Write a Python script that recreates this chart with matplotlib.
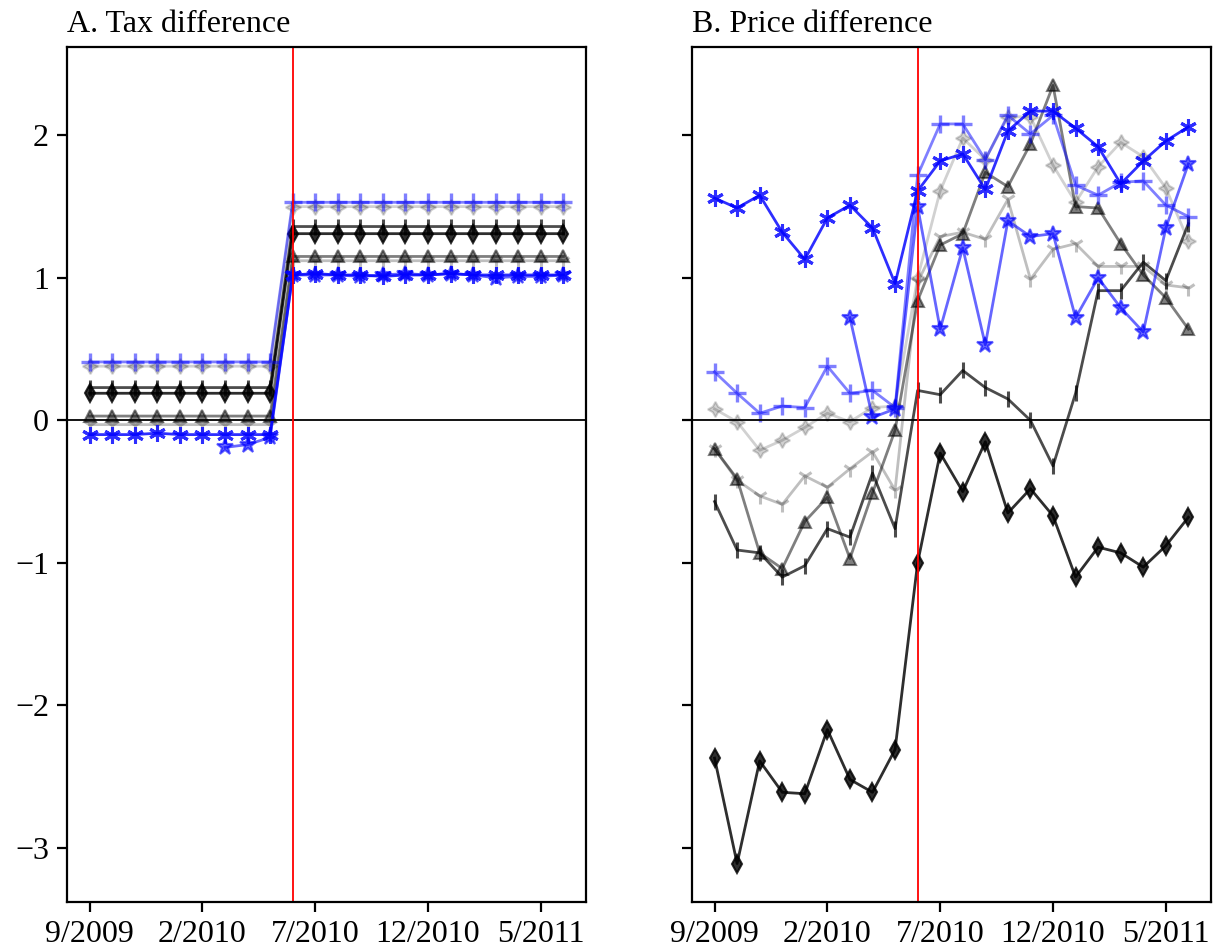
import numpy as np
import matplotlib
matplotlib.use('Agg')
import matplotlib.pyplot as plt

plt.rcParams['font.family'] = ['Liberation Serif', 'DejaVu Serif']

nan = np.nan

# months 9/2009 .. 6/2011, the red line marks 6/2010
months = ['9/2009', '10/2009', '11/2009', '12/2009', '1/2010', '2/2010', '3/2010',
          '4/2010', '5/2010', '6/2010', '7/2010', '8/2010', '9/2010', '10/2010',
          '11/2010', '12/2010', '1/2011', '2/2011', '3/2011', '4/2011', '5/2011', '6/2011']
tick_labels = ['9/2009', '2/2010', '7/2010', '12/2010', '5/2011']
event_month = '6/2010'

# Panel A: tax difference
tax_plus = [0.41]*9 + [1.53]*13
tax_lgdiam = [0.38]*9 + [1.50]*13
tax_bar = [0.23]*9 + [1.36]*13
tax_diam = [0.19]*9 + [1.31]*13
tax_tri = [0.03]*9 + [1.15]*13
tax_lgtick = [-0.03]*9 + [1.12]*13
tax_ast = [-0.10, -0.10, -0.10, -0.09, -0.10, -0.10, -0.10, -0.10, -0.10,
           1.02, 1.03, 1.02, 1.02, 1.01, 1.02, 1.02, 1.03, 1.02, 1.02, 1.02, 1.02, 1.02]
tax_star = [nan]*6 + [-0.19, -0.17, -0.12,
                      1.02, 1.02, 1.02, 1.01, 1.02, 1.03, 1.02, 1.03, 1.02, 1.00, 1.01, 1.01, 1.02]

# Panel B: price difference
price_plus = [0.34, 0.19, 0.05, 0.10, 0.09, 0.38, 0.19, 0.21, 0.09,
              1.72, 2.08, 2.08, 1.83, 2.14, 2.01, 2.14, 1.65, 1.58, 1.67, 1.68, 1.51, 1.43]
price_lgdiam = [0.08, -0.01, -0.21, -0.14, -0.05, 0.05, -0.01, 0.09, 0.10,
                1.00, 1.61, 1.98, 1.83, 2.13, 2.13, 1.79, 1.53, 1.78, 1.95, 1.85, 1.63, 1.26]
price_bar = [-0.57, -0.91, -0.93, -1.10, -1.02, -0.76, -0.82, -0.37, -0.76,
             0.21, 0.18, 0.35, 0.23, 0.15, 0.00, -0.32, 0.19, 0.91, 0.91, 1.11, 0.98, 1.38]
price_diam = [-2.37, -3.11, -2.39, -2.61, -2.62, -2.17, -2.52, -2.61, -2.31,
              -1.00, -0.23, -0.50, -0.15, -0.65, -0.48, -0.67, -1.10, -0.89, -0.93, -1.03, -0.88, -0.68]
price_tri = [-0.20, -0.41, -0.93, -1.04, -0.71, -0.54, -0.97, -0.51, -0.07,
             0.84, 1.23, 1.31, 1.74, 1.64, 1.94, 2.35, 1.50, 1.49, 1.24, 1.02, 0.86, 0.64]
price_lgtick = [-0.20, -0.42, -0.53, -0.59, -0.39, -0.47, -0.34, -0.22, -0.49,
                0.97, 1.29, 1.32, 1.27, 1.55, 0.99, 1.20, 1.24, 1.08, 1.08, 1.08, 0.95, 0.93]
price_ast = [1.56, 1.49, 1.58, 1.32, 1.13, 1.42, 1.51, 1.35, 0.96,
             1.61, 1.82, 1.87, 1.62, 2.03, 2.17, 2.17, 2.05, 1.92, 1.66, 1.82, 1.96, 2.06]
price_star = [nan]*6 + [0.72, 0.02, 0.08,
                        1.50, 0.64, 1.21, 0.53, 1.40, 1.29, 1.31, 0.72, 1.00, 0.79, 0.62, 1.35, 1.80]

# styles: (color, alpha, marker, markersize, marker edge width)
styles = {
    'lgdiam': ('black', 0.18, (4, 1, 0), 11, 1.5),
    'lgtick': ('black', 0.25, '1', 11, 2.2),
    'tri': ('black', 0.5, '^', 9, 1.5),
    'bar': ('black', 0.7, '|', 11, 2.2),
    'diam': ('black', 0.82, 'd', 9, 1.5),
    'plus': ('blue', 0.5, '+', 13, 2.4),
    'star': ('blue', 0.6, '*', 12, 1.5),
    'ast': ('blue', 0.82, (6, 2, 0), 12, 2.2),
}
order = ['lgdiam', 'lgtick', 'tri', 'bar', 'diam', 'plus', 'star', 'ast']

tax = {'plus': tax_plus, 'lgdiam': tax_lgdiam, 'bar': tax_bar, 'diam': tax_diam,
       'tri': tax_tri, 'lgtick': tax_lgtick, 'ast': tax_ast, 'star': tax_star}
price = {'plus': price_plus, 'lgdiam': price_lgdiam, 'bar': price_bar, 'diam': price_diam,
         'tri': price_tri, 'lgtick': price_lgtick, 'ast': price_ast, 'star': price_star}

x = np.arange(len(months))
fig = plt.figure(figsize=(12.14, 9.51), dpi=100)
axA = fig.add_axes([0.0552, 0.0515, 0.4275, 0.8991])
axB = fig.add_axes([0.570, 0.0515, 0.4275, 0.8991], sharey=axA)

for ax, data, title in [(axA, tax, 'A. Tax difference'), (axB, price, 'B. Price difference')]:
    for key in order:
        c, a, m, ms, mew = styles[key]
        ax.plot(x, data[key], color=c, alpha=a, marker=m, markersize=ms,
                markeredgewidth=mew, lw=2)
    ax.axhline(0, color='black', lw=1.3)
    ax.axvline(months.index(event_month), color='red', lw=1.3)

    ax.set_xlim(-1, 22)
    ax.set_xticks([months.index(t) for t in tick_labels])
    ax.set_xticklabels(tick_labels)
    ax.tick_params(direction='out', length=7, width=1.6, labelsize=23, pad=6)
    for s in ax.spines.values():
        s.set_linewidth(1.6)
    ax.set_title(title, loc='left', fontsize=23, pad=11)

axA.set_ylim(-3.38, 2.62)
axA.set_yticks([-3, -2, -1, 0, 1, 2])
axB.tick_params(labelleft=False)

#saving the figure
fig.savefig('out.png', dpi=100)
